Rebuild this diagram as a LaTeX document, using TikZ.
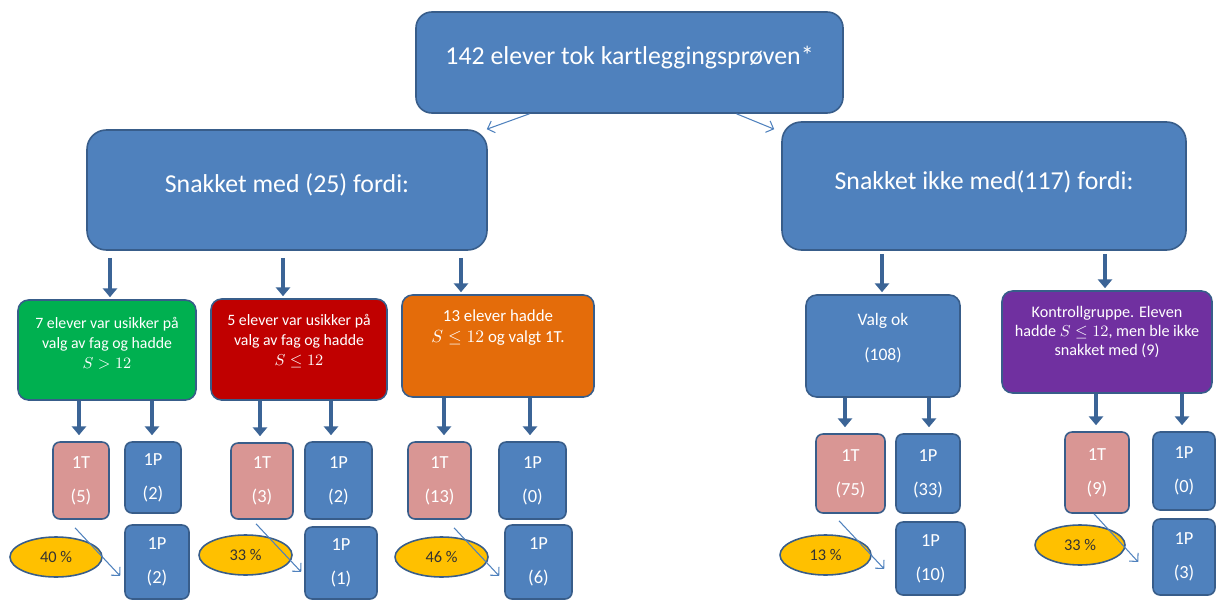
\documentclass[tikz,border=0pt]{standalone}
\usepackage{fontspec}
\setmainfont{Carlito}
\usetikzlibrary{arrows.meta,calc,shapes.geometric}

\definecolor{boxblue}{HTML}{4F81BD}
\definecolor{boxline}{HTML}{385D8A}
\definecolor{fatblue}{HTML}{3B6496}
\definecolor{tpink}{HTML}{D99694}
\definecolor{kgreen}{HTML}{00B050}
\definecolor{kred}{HTML}{C00000}
\definecolor{korange}{HTML}{E46C0A}
\definecolor{kpurple}{HTML}{7030A0}
\definecolor{kyellow}{HTML}{FFC000}

\tikzset{
  px/.style 2 args={minimum width=#1*0.02cm, minimum height=#2*0.02cm},
  box/.style={draw=boxline, line width=0.9pt, fill=boxblue, text=white,
    rounded corners=6pt, align=center, inner sep=1pt},
  headbox/.style={box, font=\fontsize{14.7}{17}\selectfont},
  groupbox/.style={box, font=\fontsize{9}{11.3}\selectfont},
  fagbox/.style={box, rounded corners=4pt, font=\fontsize{10.5}{12.5}\selectfont},
  pct/.style={ellipse, draw=boxline, line width=0.9pt, fill=kyellow,
    text=black!80, font=\fontsize{9.3}{11}\selectfont, inner sep=0pt},
  fatarrow/.style={draw=fatblue, line width=2.5pt, -{Triangle[width=8pt,length=5pt]}},
  thinarrow/.style={draw=boxblue, line width=0.6pt, -{Straight Barb[length=3.5pt,width=7pt]}}
}

\begin{document}
\begin{tikzpicture}[x=0.02cm, y=-0.02cm]
  \useasboundingbox (0,0) rectangle (1216,601);
  % top and the two main groups
  \node[headbox, px={427}{101}, rounded corners=9pt] (top) at (629.5,62.5) {142 elever tok kartleggingsprøven*\\[-9pt]};
  \node[headbox, px={400}{120}, rounded corners=11pt] (snakket) at (287,190) {Snakket med (25) fordi:\\[-9pt]};
  \node[headbox, px={404}{128}, rounded corners=11pt] (ikke) at (984,186) {Snakket ikke med(117) fordi:\\[-10pt]};
  \draw[thinarrow] ($(top.south)+(-100,0)$) -- ($(snakket.north east)+(-1,0)$);
  \draw[thinarrow] ($(top.south)+(107,0)$) -- ($(ikke.north west)+(-7,8)$);

  % reasons
  \node[groupbox, px={178}{100}, fill=kgreen] (usikkerS) at (107,350) {7 elever var usikker på\\ valg av fag og hadde\\ $S>12$\\[-3.3pt]};
  \node[groupbox, px={176}{101}, fill=kred] (usikkerL) at (299,349.5) {5 elever var usikker på\\ valg av fag og hadde\\ $S\leq 12$\\[0pt]};
  \node[groupbox, px={192}{102}, fill=korange, font=\fontsize{9.6}{12}\selectfont] (valgt) at (498,346) {13 elever hadde\\ $S\leq 12$ og valgt 1T.\\[10.7pt]};
  \node[groupbox, px={154}{102}, font=\fontsize{10}{12}\selectfont] (valgok) at (883,346) {Valg ok\\[8pt](108)\\[-2pt]};
  \node[groupbox, px={210}{102}, fill=kpurple, font=\fontsize{9.2}{10.8}\selectfont] (kontroll) at (1107,342) {Kontrollgruppe. Eleven\\ hadde $S\leq 12$, men ble ikke\\ snakket med (9)\\[1.7pt]};
  \foreach \b/\dx in {usikkerS/3, usikkerL/-16, valgt/-37}
    \draw[fatarrow] ($(snakket.south -| \b.north)+(\dx,7)$) -- ($(\b.north)+(\dx,-2)$);
  \foreach \b/\dx in {valgok/-1, kontroll/-2}
    \draw[fatarrow] ($(ikke.south -| \b.north)+(\dx,3)$) -- ($(\b.north)+(\dx,-2)$);

  % 1T / 1P
  \node[fagbox, px={56}{77}, fill=tpink] (g1T) at (81,480.5) {1T\\[7pt](5)};
  \node[fagbox, px={56}{71}] (g1P) at (153,477.5) {1P\\[7pt](2)};
  \node[fagbox, px={64}{74}] (g1Pb) at (157,562) {1P\\[7pt](2)};
  \node[fagbox, px={62}{76}, fill=tpink] (r1T) at (262,481) {1T\\[7pt](3)};
  \node[fagbox, px={67}{77}] (r1P) at (338.5,480.5) {1P\\[7pt](2)};
  \node[fagbox, px={72}{72}] (r1Pb) at (341,563) {1P\\[7pt](1)};
  \node[fagbox, px={63}{77}, fill=tpink] (o1T) at (439.5,480.5) {1T\\[7pt](13)};
  \node[fagbox, px={67}{77}] (o1P) at (532.5,480.5) {1P\\[7pt](0)};
  \node[fagbox, px={67}{74}] (o1Pb) at (538.5,562) {1P\\[7pt](6)};
  \node[fagbox, px={69}{79}, fill=tpink] (v1T) at (850.5,473.5) {1T\\[7pt](75)};
  \node[fagbox, px={64}{79}] (v1P) at (928,473.5) {1P\\[7pt](33)};
  \node[fagbox, px={69}{73}] (v1Pb) at (930.5,558.5) {1P\\[7pt](10)};
  \node[fagbox, px={64}{81}, fill=tpink] (k1T) at (1097,472.5) {1T\\[7pt](9)};
  \node[fagbox, px={62}{78}] (k1P) at (1184,471) {1P\\[7pt](0)};
  \node[fagbox, px={62}{76}] (k1Pb) at (1184,557) {1P\\[7pt](3)};
  \foreach \a/\b/\dx in {usikkerS/g1T/-2, usikkerS/g1P/-1, usikkerL/r1T/-2, usikkerL/r1P/-7.5,
      valgt/o1T/4.5, valgt/o1P/-2.5, valgok/v1T/-5.5, valgok/v1P/1, kontroll/k1T/-1, kontroll/k1P/-2}
    \draw[fatarrow] ($(\a.south -| \b.north)+(\dx,0)$) -- ($(\b.north)+(\dx,-6)$);

  % percentages
  \node[pct, px={92}{40}] (p40) at (56,557) {40 \%};
  \node[pct, px={93}{40}] (p33) at (245.5,555) {33 \%};
  \node[pct, px={93}{40}] (p46) at (441.5,557) {46 \%};
  \node[pct, px={91}{40}] (p13) at (825.5,555) {13 \%};
  \node[pct, px={90}{40}] (p33k) at (1080,545) {33 \%};
  \draw[thinarrow] ($(g1T.south)+(-6,8)$) -- ($(g1Pb.west)+(-4,14)$);
  \draw[thinarrow] ($(r1T.south)+(-6,4)$) -- ($(r1Pb.west)+(-3,9)$);
  \draw[thinarrow] ($(o1T.south)+(14.5,8)$) -- ($(o1Pb.west)+(-5,14)$);
  \draw[thinarrow] ($(v1T.south)+(-11.5,7)$) -- ($(v1Pb.west)+(-11,10.5)$);
  \draw[thinarrow] ($(k1T.south)+(-3,0)$) -- ($(k1Pb.west)+(-14,5)$);
\end{tikzpicture}
\end{document}
